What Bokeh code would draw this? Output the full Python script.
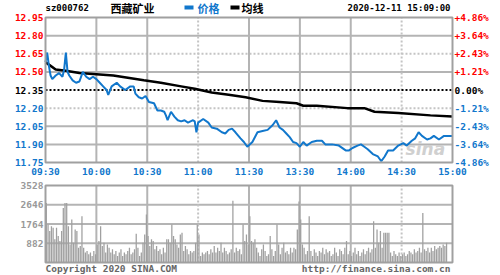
from bokeh.plotting import figure
from bokeh.models import Range1d, ColumnDataSource
from bokeh.embed import file_html
from bokeh.resources import INLINE
from bokeh.core.properties import value

# ---------------- data ----------------
symbol = "sz000762"
stock_name = "西藏矿业"
legend_price = "价格"
legend_avg = "均线"
stamp = "2020-12-11 15:09:00"
copyright_text = "Copyright 2020 SINA.COM"
url_text = "http://finance.sina.com.cn"
pre_close = 12.35

price_ticks = [12.95, 12.80, 12.65, 12.50, 12.35, 12.20, 12.05, 11.90, 11.75]
price_tick_labels = ["12.95", "12.80", "12.65", "12.50", "12.35", "12.20", "12.05", "11.90", "11.75"]
pct_labels = ["+4.86%", "+3.64%", "+2.43%", "+1.21%", "0.00%", "-1.21%", "-2.43%", "-3.64%", "-4.86%"]

time_ticks = [0, 30, 60, 90, 120, 150, 180, 210, 240]
time_labels = ["09:30", "10:00", "10:30", "11:00", "11:30", "13:30", "14:00", "14:30", "15:00"]

vol_ticks = [882, 1764, 2646, 3528]
vol_tick_labels = ["882", "1764", "2646", "3528"]

price_min = [0, 1, 2, 3, 4, 6, 8, 10, 11, 12, 13, 14, 16, 18, 20, 22, 24, 26, 28, 30,
             32, 34, 36, 37, 39, 42, 44, 47, 50, 52, 53, 55, 57, 59, 61, 64, 66, 68, 70, 71,
             72, 74, 76, 78, 80, 82, 84, 87, 88, 89, 90, 93, 96, 98, 101, 104, 106, 108, 110, 112,
             115, 117, 119, 122, 125, 128, 131, 134, 136, 138, 140, 142, 144, 146, 148, 150, 152, 154, 157, 160,
             163, 165, 169, 173, 177, 179, 181, 184, 186, 188, 190, 193, 196, 198, 200, 202, 205, 208, 211, 213,
             216, 218, 220, 222, 225, 227, 229, 232, 235, 237, 240]
price_val = [12.58, 12.66, 12.55, 12.47, 12.44, 12.47, 12.49, 12.46, 12.52, 12.66, 12.50, 12.47, 12.43, 12.41, 12.42, 12.50, 12.46, 12.44, 12.46, 12.44,
             12.41, 12.38, 12.35, 12.31, 12.38, 12.41, 12.38, 12.35, 12.38, 12.38, 12.32, 12.29, 12.28, 12.30, 12.25, 12.24, 12.18, 12.18, 12.17, 12.14,
             12.10, 12.17, 12.13, 12.10, 12.09, 12.10, 12.08, 12.10, 12.09, 12.00, 12.08, 12.11, 12.08, 12.04, 12.03, 12.00, 11.99, 12.02, 12.03, 12.00,
             11.95, 11.92, 11.88, 11.92, 12.00, 12.01, 12.02, 12.06, 12.10, 12.04, 12.02, 11.99, 11.96, 11.92, 11.91, 11.88, 11.92, 11.89, 11.92, 11.93,
             11.93, 11.90, 11.90, 11.89, 11.85, 11.85, 11.87, 11.89, 11.90, 11.88, 11.86, 11.82, 11.80, 11.76, 11.80, 11.85, 11.85, 11.89, 11.91, 11.89,
             11.93, 11.95, 12.00, 11.97, 11.94, 11.95, 11.97, 11.94, 11.97, 11.97, 11.97]

avg_min = [0, 2, 6, 12, 20, 40, 58, 68, 80, 88, 98, 108, 118, 128, 138, 148, 152, 160, 178, 188, 194, 208, 227, 240]
avg_val = [12.58, 12.56, 12.52, 12.51, 12.49, 12.47, 12.43, 12.41, 12.38, 12.36, 12.33, 12.31, 12.29, 12.26, 12.25, 12.24, 12.22, 12.22, 12.20, 12.20, 12.17, 12.16, 12.14, 12.13]

volume = [2725, 1740, 1440, 1665, 1590, 1060, 1590, 1210, 985, 1440, 2500, 2725, 2725, 1665, 830, 1970, 910, 1515, 1440, 680,
          760, 2120, 680, 455, 530, 380, 455, 300, 530, 380, 830, 985, 1665, 760, 910, 455, 830, 680, 455, 605,
          380, 530, 300, 455, 605, 300, 455, 380, 530, 680, 380, 455, 605, 1315, 680, 300, 455, 910, 1285, 2195,
          1210, 760, 1060, 985, 605, 760, 530, 605, 380, 680, 455, 1060, 1060, 910, 1740, 1210, 1060, 830, 680, 1285,
          1360, 530, 760, 605, 380, 530, 455, 530, 910, 1740, 1285, 300, 455, 380, 455, 530, 380, 605, 455, 760,
          455, 680, 530, 910, 455, 680, 530, 380, 455, 605, 2830, 455, 680, 530, 605, 380, 1740, 985, 1285, 830,
          2120, 985, 910, 1060, 680, 455, 300, 605, 830, 530, 300, 380, 1210, 605, 300, 530, 1740, 830, 380, 680,
          910, 455, 530, 380, 680, 455, 680, 605, 1515, 2800, 1970, 830, 680, 380, 530, 2120, 530, 300, 605, 455,
          300, 530, 455, 680, 380, 605, 455, 530, 300, 380, 680, 455, 300, 605, 530, 380, 680, 985, 380, 530,
          300, 455, 680, 380, 530, 300, 455, 605, 380, 530, 680, 455, 605, 1890, 680, 1515, 910, 1440, 680, 1360,
          1360, 1360, 1360, 455, 300, 530, 380, 300, 455, 300, 380, 455, 300, 380, 530, 455, 380, 605, 455, 530,
          680, 455, 2270, 605, 530, 680, 455, 680, 530, 760, 605, 680, 760, 680, 830, 760, 910, 0, 0, 0]

# ---------------- layout (pixels of the 500x275 canvas) ----------------
W, H = 500, 275
PX_L, PX_R = 45, 452          # plot area left/right
PR_T, PR_B = 17, 162          # price panel top/bottom
VO_T, VO_B = 185, 262         # volume panel top/bottom

t_lo, t_hi = time_ticks[0], time_ticks[-1]
p_lo, p_hi = price_ticks[-1], price_ticks[0]
v_hi = vol_ticks[-1]

mx = (t_hi - t_lo) / (PX_R - PX_L)       # minutes per pixel
my = (p_hi - p_lo) / (PR_B - PR_T)       # price per pixel
mv = v_hi / (VO_B - VO_T)                # volume per pixel

RED = "#ff0000"
BLUE = "#1177cc"
GRID = "#b4b4b4"
DOT = "#c4c4c4"
FRAME = "#a0a0a0"
BAR = "#a0a0a0"
MONO = value("DejaVu Sans Mono")
CJK = value("Noto Sans CJK SC")

p = figure(width=W, height=H, output_backend="svg", toolbar_location=None,
           x_axis_location=None, y_axis_location=None,
           x_range=Range1d(t_lo - PX_L * mx, t_hi + (W - PX_R) * mx),
           y_range=Range1d(p_lo - (H - PR_B) * my, p_hi + PR_T * my),
           min_border=0, min_border_left=0, min_border_right=0,
           min_border_top=0, min_border_bottom=0)
p.extra_y_ranges = {"vol": Range1d(-(H - VO_B) * mv, v_hi + VO_T * mv)}
p.grid.visible = False
p.outline_line_color = None
p.background_fill_color = "white"
p.border_fill_color = "white"

# ---------- price panel grid ----------
solid_h = [t for t in price_ticks[1:-1] if t not in (12.65, 12.20, pre_close)]
dot_h = [12.65, 12.20]
p.segment(x0=[t_lo] * len(solid_h), x1=[t_hi] * len(solid_h), y0=solid_h, y1=solid_h,
          line_color=GRID, line_width=2)
p.segment(x0=[t_lo] * len(dot_h), x1=[t_hi] * len(dot_h), y0=dot_h, y1=dot_h,
          line_color=DOT, line_width=2, line_dash="2 2")
solid_v = [t for t in time_ticks[1:-1] if t not in (90, 210)]
dot_v = [90, 210]
p.segment(x0=solid_v, x1=solid_v, y0=[p_lo] * len(solid_v), y1=[p_hi] * len(solid_v),
          line_color=GRID, line_width=2)
p.segment(x0=dot_v, x1=dot_v, y0=[p_lo] * len(dot_v), y1=[p_hi] * len(dot_v),
          line_color=DOT, line_width=2, line_dash="2 2")
p.segment(x0=[t_lo], x1=[t_hi], y0=[pre_close], y1=[pre_close],
          line_color="black", line_width=2, line_dash="2 2")

# watermark
p.text(x=[224], y=[p_lo + 0.025], text=["sina"], text_font=value("DejaVu Sans"),
       text_font_size="17px", text_font_style="bold italic", text_color="#d0d0d0",
       text_align="center", text_baseline="bottom")

# series
p.line(avg_min, avg_val, line_color="black", line_width=2.5)
p.line(price_min, price_val, line_color=BLUE, line_width=2)

p.quad(left=[t_lo], right=[t_hi], bottom=[p_lo], top=[p_hi], fill_color=None,
       line_color=FRAME, line_width=2)

# price labels
colors = [RED if t > pre_close + 1e-9 else ("black" if abs(t - pre_close) < 1e-9 else BLUE)
          for t in price_ticks]
lab_src = ColumnDataSource(dict(y=price_ticks, lab=price_tick_labels, pct=pct_labels, c=colors))
p.text(x=t_lo - 2 * mx, y="y", text="lab", text_color="c", source=lab_src,
       text_align="right", text_baseline="middle", text_font=MONO,
       text_font_size="9.5px", text_font_style="bold")
p.text(x=t_hi + 2 * mx, y="y", text="pct", text_color="c", source=lab_src,
       text_align="left", text_baseline="middle", text_font=MONO,
       text_font_size="9.5px", text_font_style="bold")

# time labels
p.text(x=time_ticks, y=[p_lo - 8.5 * my] * len(time_ticks), text=time_labels,
       text_color=BLUE, text_align="center", text_baseline="middle", text_font=MONO,
       text_font_size="9.5px", text_font_style="bold")

# header
hy = p_hi + (PR_T - 7) * my
p.text(x=[t_lo], y=[hy], text=[symbol], text_align="left", text_baseline="middle",
       text_font=MONO, text_font_size="9px", text_font_style="bold", text_color="black")
p.text(x=[t_lo + 65 * mx], y=[hy], text=[stock_name], text_align="left", text_baseline="middle",
       text_font=CJK, text_font_size="11px", text_font_style="bold", text_color="black")
p.segment(x0=[t_lo + 139 * mx], x1=[t_lo + 148 * mx], y0=[hy], y1=[hy], line_color=BLUE, line_width=4)
p.text(x=[t_lo + 152 * mx], y=[hy], text=[legend_price], text_align="left", text_baseline="middle",
       text_font=CJK, text_font_size="11px", text_font_style="bold", text_color=BLUE)
p.segment(x0=[t_lo + 185 * mx], x1=[t_lo + 194 * mx], y0=[hy], y1=[hy], line_color="black", line_width=4)
p.text(x=[t_lo + 196 * mx], y=[hy], text=[legend_avg], text_align="left", text_baseline="middle",
       text_font=CJK, text_font_size="11px", text_font_style="bold", text_color="black")
p.text(x=[t_hi - 2 * mx], y=[hy], text=[stamp], text_align="right", text_baseline="middle",
       text_font=MONO, text_font_size="9px", text_font_style="bold", text_color="black")

# ---------- volume panel ----------
vg = vol_ticks[:-1]
p.segment(x0=[t_lo] * len(vg), x1=[t_hi] * len(vg), y0=vg, y1=vg,
          line_color=GRID, line_width=2, y_range_name="vol")
p.segment(x0=solid_v, x1=solid_v, y0=[0] * len(solid_v), y1=[v_hi] * len(solid_v),
          line_color=GRID, line_width=2, y_range_name="vol")
p.segment(x0=dot_v, x1=dot_v, y0=[0] * len(dot_v), y1=[v_hi] * len(dot_v),
          line_color=DOT, line_width=2, line_dash="2 2", y_range_name="vol")

src = ColumnDataSource(dict(x=[i + 0.5 for i in range(len(volume))], v=volume))
p.vbar(x="x", top="v", bottom=0, width=0.75, source=src, fill_color=BAR, line_color=None,
       y_range_name="vol")

p.quad(left=[t_lo], right=[t_hi], bottom=[0], top=[v_hi], fill_color=None,
       line_color=FRAME, line_width=2, y_range_name="vol")

p.text(x=[t_lo - 2 * mx] * len(vol_ticks), y=vol_ticks, text=vol_tick_labels,
       text_align="right", text_baseline="middle", text_font=MONO, text_font_size="9.5px",
       text_font_style="bold", text_color="#999999", y_range_name="vol")

fy = -(268 - VO_B) * mv
p.text(x=[t_lo], y=[fy], text=[copyright_text], text_align="left", text_baseline="middle",
       text_font=MONO, text_font_size="9.5px", text_font_style="bold", text_color="#666666",
       y_range_name="vol")
p.text(x=[t_hi - 2 * mx], y=[fy], text=[url_text], text_align="right", text_baseline="middle",
       text_font=MONO, text_font_size="9.5px", text_font_style="bold", text_color="#666666",
       y_range_name="vol")

open("out.html", "w").write(file_html(p, INLINE))
